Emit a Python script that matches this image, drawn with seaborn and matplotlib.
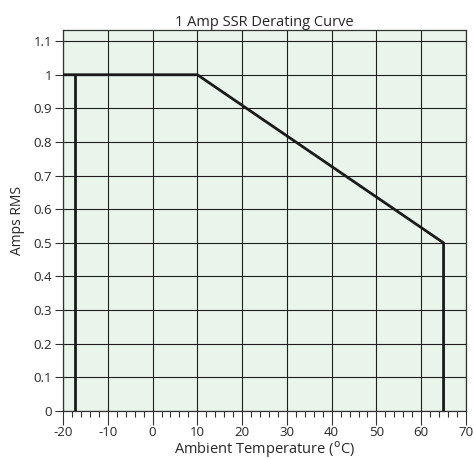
import numpy as np
import pandas as pd
import matplotlib
matplotlib.use("Agg")
import matplotlib.pyplot as plt
from matplotlib.ticker import MultipleLocator
import seaborn as sns

# derating curve points (temperature C, amps RMS)
curve_temp = [-20, 10, 65, 65]
curve_amps = [1.0, 1.0, 0.5, 0.0]
# low temperature limit
low_temp = [-17.3, -17.3]
low_amps = [0.0, 1.0]

sns.set_style("white")
plt.rcParams['font.family'] = ['Open Sans', 'DejaVu Sans']
plt.rcParams['axes.unicode_minus'] = False

fig = plt.figure(figsize=(4.74, 4.59), dpi=100)
ax = fig.add_axes([0.133, 0.1046, 0.850, 0.830])
ax.set_facecolor('#e9f4ea')

df1 = pd.DataFrame({'t': curve_temp, 'a': curve_amps})
df2 = pd.DataFrame({'t': low_temp, 'a': low_amps})
sns.lineplot(data=df1, x='t', y='a', sort=False, estimator=None, color='#1a1a1a', lw=2.0, ax=ax, zorder=5)
sns.lineplot(data=df2, x='t', y='a', sort=False, estimator=None, color='#1a1a1a', lw=2.0, ax=ax, zorder=5)

ax.set_xlim(-20, 70)
ax.set_ylim(0, 1.133)
ax.xaxis.set_major_locator(MultipleLocator(10))
ax.xaxis.set_minor_locator(MultipleLocator(2))
ax.set_yticks(np.arange(0, 1.11, 0.1))
ax.set_yticklabels(['0', '0.1', '0.2', '0.3', '0.4', '0.5', '0.6', '0.7', '0.8', '0.9', '1', '1.1'])
ax.grid(True, which='major', color='#1e1e1e', lw=0.8)
ax.tick_params(which='both', left=True, bottom=True)
ax.tick_params(axis='x', which='major', direction='out', length=10, width=0.8, color='#333333', labelsize=9.5, pad=1)
ax.tick_params(axis='x', which='minor', direction='out', length=4, width=0.8, color='#333333')
ax.tick_params(axis='y', which='major', direction='out', length=6, width=0.8, color='#333333', labelsize=9.5, pad=2)
ax.tick_params(axis='y', which='minor', left=False)
for s in ax.spines.values():
    s.set_color('#333333')
    s.set_linewidth(0.9)

ax.set_xlabel('Ambient Temperature ($^{\\rm o}$C)', fontsize=10.5, labelpad=0)
ax.set_ylabel('Amps RMS', fontsize=10, labelpad=6)
ax.set_title('1 Amp SSR Derating Curve', fontsize=10.5, pad=3)

fig.savefig('out.png', dpi=100)
